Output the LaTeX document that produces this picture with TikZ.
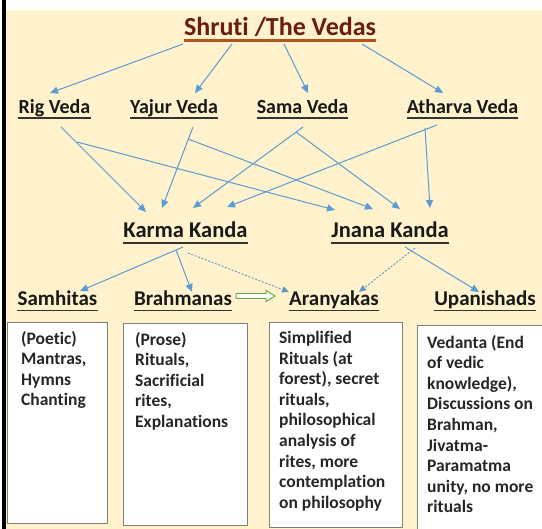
\documentclass[tikz,border=0pt]{standalone}
\usepackage{fontspec}
\setmainfont{Carlito}[Ligatures=NoCommon]
\usetikzlibrary{arrows.meta,calc}
\definecolor{bgc}{HTML}{FFF2CC}
\definecolor{arrc}{HTML}{5B9BD5}
\definecolor{grn}{HTML}{70AD47}
\definecolor{ttlc}{HTML}{6A1C10}
\definecolor{ttlu}{HTML}{B4521E}
\definecolor{boxc}{HTML}{7F7F7F}
\tikzset{
  lbl/.style={inner sep=0pt,anchor=base,font=\fontsize{20}{24}\selectfont\bfseries,text=black!90},
  kanda/.style={lbl,font=\fontsize{22.5}{27}\selectfont\bfseries},
  sub/.style={lbl,font=\fontsize{21}{25}\selectfont\bfseries},
  ul/.style={draw=black!80,line width=1.8pt},
  conn/.style={draw=arrc,line width=1pt,-{Triangle[length=8pt,width=7pt]}},
  dconn/.style={draw=arrc!80!gray,line width=0.9pt,dash pattern=on 2pt off 1.6pt,-{Triangle[length=7pt,width=6pt]}},
  boxn/.style={draw=boxc,line width=1.3pt,fill=white,inner sep=0pt,anchor=north west},
  boxtxt/.style={inner sep=0pt,anchor=north west,align=left,font=\fontsize{17.5}{20.6}\selectfont\bfseries,text=black!85}
}
\begin{document}
\begin{tikzpicture}[x=1pt,y=-1pt]
\useasboundingbox (0,0) rectangle (542,529);
\fill[white] (0,0) rectangle (542,529);
\fill[bgc] (6,10) rectangle (542,529);
\fill[black] (2,0) rectangle (5.5,529);

% title
\node[inner sep=0pt,anchor=base,font=\fontsize{26}{30}\selectfont\bfseries,text=ttlc] (title) at (280,36) {Shruti /The Vedas};
\draw[draw=ttlu,line width=2.4pt] ([yshift=-4.5pt]title.base west) -- ([yshift=-4.5pt]title.base east);

% vedas
\node[lbl] (rig) at (54.5,114) {Rig Veda};
\node[lbl] (yaj) at (174,114) {Yajur Veda};
\node[lbl] (sama) at (302.5,114) {Sama Veda};
\node[lbl] (ath) at (462.5,114) {Atharva Veda};
\foreach \n in {rig,yaj,sama,ath}
  \draw[ul] ([yshift=-4pt]\n.base west) -- ([yshift=-4pt]\n.base east);

% kandas
\node[kanda] (karma) at (185.5,238) {Karma Kanda};
\node[kanda] (jnana) at (390,238) {Jnana Kanda};
\foreach \n in {karma,jnana}
  \draw[ul] ([yshift=-5pt]\n.base west) -- ([yshift=-5pt]\n.base east);

% bottom labels
\node[sub] (sam) at (57.5,306) {Samhitas};
\node[sub] (bra) at (183,306) {Brahmanas};
\node[sub] (ara) at (334,306) {Aranyakas};
\node[sub] (upa) at (485,306) {Upanishads};
\foreach \n in {sam,bra,ara,upa}
  \draw[ul] ([yshift=-4.5pt]\n.base west) -- ([yshift=-4.5pt]\n.base east);

% title arrows
\draw[conn] ($(title.base)+(-97,8)$) -- ($(rig.base)+(-4.5,-21)$);
\draw[conn] ($(title.base)+(-48,8)$) -- ($(yaj.base)+(21,-21)$);
\draw[conn] ($(title.base)+(4,8)$) -- ($(sama.base)+(5.5,-21)$);
\draw[conn] ($(title.base)+(82,8)$) -- ($(ath.base)+(-19.5,-21)$);

% veda -> kanda
\draw[conn] ($(rig.base)+(6.5,13)$) -- ($(karma.base)+(-39.5,-26)$);
\draw[conn] ($(rig.base)+(22.5,28)$) -- ($(jnana.base)+(-55,-28)$);
\draw[conn] ($(yaj.base)+(19,13)$) -- ($(karma.base)+(-23.5,-30)$);
\draw[conn] ($(yaj.base)+(14,25)$) -- ($(jnana.base)+(-17,-29)$);
\draw[conn] ($(sama.base)+(0.5,13)$) -- ($(karma.base)+(7.5,-30)$);
\draw[conn] ($(sama.base)+(-6.5,18)$) -- ($(jnana.base)+(10,-29)$);
\draw[conn] ($(ath.base)+(-25.5,11)$) -- ($(karma.base)+(41.5,-31)$);
\draw[conn] ($(ath.base)+(-37.5,14)$) -- ($(jnana.base)+(40,-30)$);

% kanda -> texts
\draw[conn] ($(karma.base)+(-2.5,9)$) -- ($(sam.base)+(22.5,-15)$);
\draw[conn] ($(karma.base)+(-9.5,12)$) -- ($(bra.base)+(9,-14)$);
\draw[dconn] ($(karma.base)+(2.5,15)$) -- ($(ara.base)+(-45,-14)$);
\draw[dconn] ($(jnana.base)+(25,10)$) -- ($(ara.base)+(25,-14)$);
\draw[conn] ($(jnana.base)+(15,9)$) -- ($(upa.base)+(-6,-14)$);

% green block arrow Brahmanas -> Aranyakas
\coordinate (gs) at ($(bra.base)+(53,-10)$);
\coordinate (ge) at ($(ara.base)+(-59,-10)$);
\draw[draw=grn,line width=1pt,fill=white,line join=miter]
  ($(gs)+(0,-2.5)$) -- ($(ge)+(-9,-2.5)$) -- ($(ge)+(-9,-5.5)$) -- (ge)
  -- ($(ge)+(-9,5.5)$) -- ($(ge)+(-9,2.5)$) -- ($(gs)+(0,2.5)$) -- cycle;

% boxes
\node[boxn,minimum width=100pt,minimum height=201pt] (samB) at (7,322) {};
\node[boxn,minimum width=124pt,minimum height=202pt] (braB) at (123,323) {};
\node[boxn,minimum width=133pt,minimum height=205pt] (araB) at (269,322) {};
\node[boxn,minimum width=140pt,minimum height=215pt] (upaB) at (417,325) {};

\node[boxtxt] (samT) at ($(samB.north west)+(14,9)$) {(Poetic)\\Mantras,\\Hymns\\Chanting};
\node[boxtxt] (braT) at ($(braB.north west)+(12,9)$) {(Prose)\\Rituals,\\Sacrificial\\rites,\\Explanations};
\node[boxtxt] (araT) at ($(araB.north west)+(10,9)$) {Simplified\\Rituals (at\\forest), secret\\rituals,\\philosophical\\analysis of\\rites, more\\contemplation\\on philosophy};
\node[boxtxt] (upaT) at ($(upaB.north west)+(10,10)$) {Vedanta (End\\of vedic\\knowledge),\\Discussions on\\Brahman,\\Jivatma-\\Paramatma\\unity, no more\\rituals};
\end{tikzpicture}
\end{document}
